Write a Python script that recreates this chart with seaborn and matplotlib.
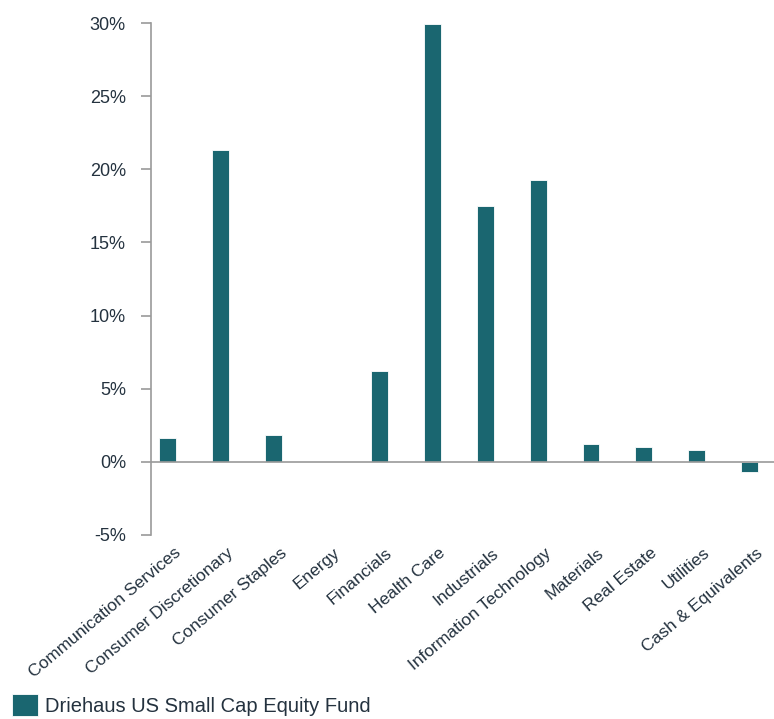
import matplotlib
matplotlib.use("Agg")
import matplotlib.pyplot as plt
import matplotlib.transforms as mtransforms
from matplotlib.patches import Patch
import seaborn as sns
import pandas as pd

sectors = ["Communication Services", "Consumer Discretionary", "Consumer Staples",
           "Energy", "Financials", "Health Care", "Industrials",
           "Information Technology", "Materials", "Real Estate", "Utilities",
           "Cash & Equivalents"]
weights = [1.6, 21.3, 1.8, 0.0, 6.2, 29.9, 17.5, 19.3, 1.2, 1.0, 0.8, -0.7]
yticks = [-5, 0, 5, 10, 15, 20, 25, 30]
ytick_labels = ["-5%", "0%", "5%", "10%", "15%", "20%", "25%", "30%"]
series_name = "Driehaus US Small Cap Equity Fund"

BAR = "#1a6670"
TXT = "#24323f"
AX = "#9a9a9a"

sns.set_theme(style="white")
plt.rcParams["font.family"] = ["Liberation Sans", "DejaVu Sans"]

df = pd.DataFrame({"sector": sectors, "weight": weights})

fig = plt.figure(figsize=(7.74, 7.19), dpi=100)
ax = fig.add_axes([0.195, 0.256, 0.805, 0.712])

sns.barplot(data=df, x="sector", y="weight", color=BAR, saturation=1,
            width=0.32, edgecolor="white", linewidth=0.6, ax=ax, errorbar=None)

ax.set_xlim(-0.32, 11.46)
ax.set_ylim(-5, 30)
ax.set_yticks(yticks)
ax.set_yticklabels(ytick_labels, fontsize=13, color=TXT)
ax.set_xlabel("")
ax.set_ylabel("")

for s in ["top", "right", "bottom"]:
    ax.spines[s].set_visible(False)
ax.spines["left"].set_color(AX)
ax.spines["left"].set_linewidth(1.2)
ax.axhline(0, color=AX, linewidth=1.2, zorder=3)

ax.tick_params(axis="y", which="major", left=True, length=7, width=1.2,
               color=AX, pad=11)
ax.tick_params(axis="x", bottom=False, pad=2)

ax.set_xticks(range(len(sectors)))
ax.set_xticklabels(sectors, rotation=40, ha="right", va="center",
                   rotation_mode="anchor", fontsize=12.5, color=TXT)
offset = mtransforms.ScaledTranslation(11 / 100, -5 / 100, fig.dpi_scale_trans)
for lbl in ax.get_xticklabels():
    lbl.set_transform(lbl.get_transform() + offset)

handle = Patch(facecolor=BAR, edgecolor="white", linewidth=0.6)
fig.legend([handle], [series_name], loc="lower left",
           bbox_to_anchor=(0.0, -0.013), frameon=False, fontsize=14.5,
           handlelength=1.3, handleheight=1.3, handletextpad=0.35,
           borderaxespad=0.2, labelcolor=TXT)

fig.savefig("out.png", dpi=100)
